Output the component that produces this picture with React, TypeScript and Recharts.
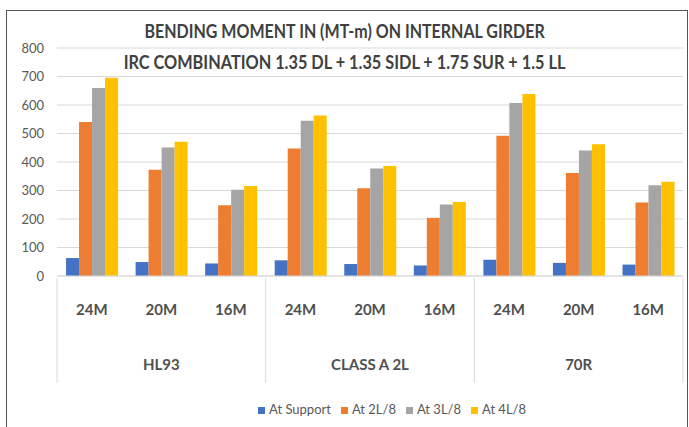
import React from 'react';
import { BarChart, Bar, XAxis, YAxis, CartesianGrid, Legend } from 'recharts';

const groups = ['HL93', 'CLASS A 2L', '70R'];
const spans = ['24M', '20M', '16M'];
const seriesNames = ['At Support', 'At 2L/8', 'At 3L/8', 'At 4L/8'];
const atSupport = [63, 49, 44, 55, 42, 37, 57, 46, 40];
const at2L8 = [540, 373, 248, 447, 308, 204, 492, 361, 258];
const at3L8 = [660, 451, 303, 545, 377, 251, 607, 440, 318];
const at4L8 = [696, 471, 316, 563, 386, 260, 639, 462, 331];
const yTicks = [0, 100, 200, 300, 400, 500, 600, 700, 800];

const W = 689;
const H = 427;
const LEFT = 57;
const RIGHT = 6;
const TOP = 48;
const PLOT_BOTTOM = 278;
const SEP_BOTTOM = 383;
const BAND = (W - LEFT - RIGHT) / (groups.length * spans.length);
const FONT = 'Lato, "DejaVu Sans", sans-serif';

const data = groups.flatMap((g, gi) =>
  spans.map((s, si) => {
    const i = gi * spans.length + si;
    return {
      group: g,
      span: s,
      support: atSupport[i],
      l2: at2L8[i],
      l3: at3L8[i],
      l4: at4L8[i],
    };
  })
);

const SpanTick = (props: any) => {
  const { x, y, payload } = props;
  return (
    <text x={x} y={y + 39} textAnchor="middle" fontSize={15} fontWeight="bold" fill="#505050" fontFamily={FONT}>
      {payload.value}
    </text>
  );
};

const GroupTick = (props: any) => {
  const { x, y, payload, index } = props;
  const pos = index % spans.length;
  return (
    <g>
      {pos === 0 && (
        <line x1={x - BAND / 2} x2={x - BAND / 2} y1={PLOT_BOTTOM} y2={SEP_BOTTOM} stroke="#d9d9d9" />
      )}
      {index === data.length - 1 && (
        <line x1={x + BAND / 2} x2={x + BAND / 2} y1={PLOT_BOTTOM} y2={SEP_BOTTOM} stroke="#d9d9d9" />
      )}
      {pos === 1 && (
        <text x={x} y={y + 39} textAnchor="middle" fontSize={15} fontWeight="bold" fill="#505050" fontFamily={FONT}>
          {payload.value}
        </text>
      )}
    </g>
  );
};

const titleStyle: React.CSSProperties = {
  position: 'absolute',
  left: 0,
  width: W,
  textAlign: 'center',
  fontFamily: FONT,
  fontWeight: 'bold',
  fontSize: 18,
  color: '#404040',
  pointerEvents: 'none',
  transformOrigin: '345px 50%',
};

export default function App() {
  return (
    <div style={{ position: 'absolute', left: 0, top: 0, width: W, height: H, background: '#fff', overflow: 'hidden' }}>
      <div
        style={{
          position: 'absolute',
          left: 6,
          top: 10,
          width: 680,
          height: 430,
          border: '1px solid #555',
        }}
      />
      <BarChart
        width={W}
        height={H}
        data={data}
        margin={{ top: TOP, right: RIGHT, left: 0, bottom: 30 }}
        barCategoryGap="13%"
        barGap={0}
      >
        <CartesianGrid vertical={false} stroke="#d9d9d9" />
        <XAxis
          dataKey="span"
          xAxisId={0}
          height={55}
          tickLine={false}
          tickSize={0}
          tickMargin={0}
          axisLine={{ stroke: '#d9d9d9' }}
          interval={0}
          tick={<SpanTick />}
        />
        <XAxis
          dataKey="group"
          xAxisId="group"
          height={50}
          tickLine={false}
          tickSize={0}
          tickMargin={0}
          axisLine={false}
          interval={0}
          allowDuplicatedCategory
          tick={<GroupTick />}
        />
        <YAxis
          width={LEFT}
          domain={[0, 800]}
          ticks={yTicks}
          axisLine={false}
          tickLine={false}
          tickSize={6}
          tickMargin={7}
          tick={{ fontSize: 13, fill: '#595959', fontFamily: FONT }}
        />
        <Legend
          verticalAlign="bottom"
          align="left"
          iconType="square"
          iconSize={7}
          itemSorter={(item: any) => seriesNames.indexOf(item.value)}
          wrapperStyle={{ bottom: 10, left: 258, width: 'auto', fontSize: 13, fontFamily: FONT, color: '#595959' }}
          formatter={(v: string) => <span style={{ color: '#595959' }}>{v}</span>}
        />
        <Bar dataKey="support" name={seriesNames[0]} fill="#4472C4" isAnimationActive={false} />
        <Bar dataKey="l2" name={seriesNames[1]} fill="#ED7D31" isAnimationActive={false} />
        <Bar dataKey="l3" name={seriesNames[2]} fill="#A5A5A5" isAnimationActive={false} />
        <Bar dataKey="l4" name={seriesNames[3]} fill="#FFC000" isAnimationActive={false} />
      </BarChart>
      <div style={{ ...titleStyle, top: 20, transform: 'scaleX(0.89)' }}>
        BENDING MOMENT IN (MT-m) ON INTERNAL GIRDER
      </div>
      <div style={{ ...titleStyle, top: 51, transform: 'scaleX(0.905)' }}>
        IRC COMBINATION 1.35 DL + 1.35 SIDL + 1.75 SUR + 1.5 LL
      </div>
    </div>
  );
}
